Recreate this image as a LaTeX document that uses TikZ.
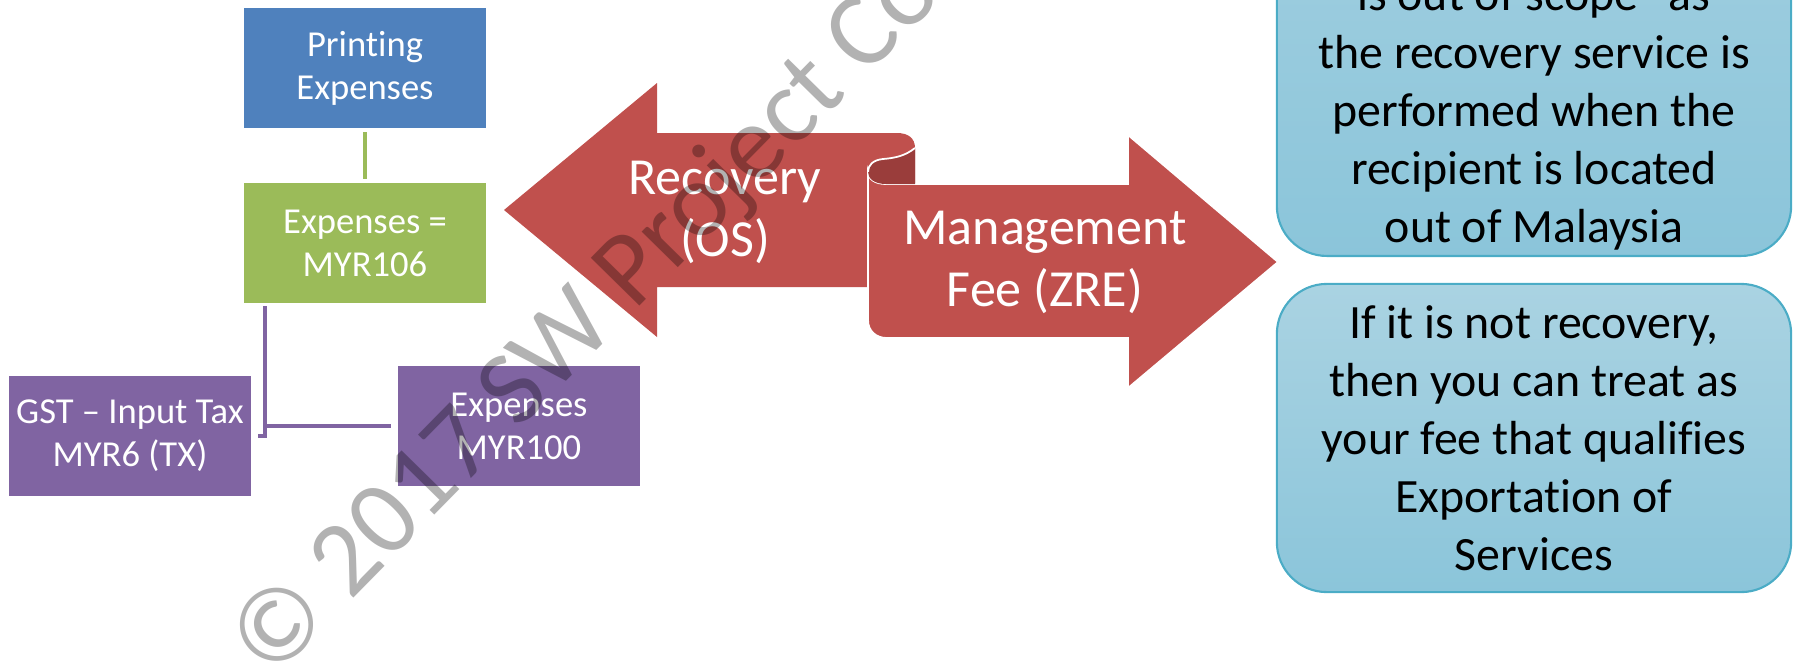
\documentclass[tikz,border=0pt]{standalone}
\usepackage{fontspec}
\setmainfont{Carlito}[Ligatures=NoCommon]
\usetikzlibrary{positioning,calc}
\definecolor{boxblue}{RGB}{79,129,189}
\definecolor{boxgreen}{RGB}{155,187,89}
\definecolor{boxpurple}{RGB}{128,100,162}
\definecolor{ribbon}{RGB}{192,80,77}
\definecolor{ribbondark}{RGB}{154,61,59}
\definecolor{notetop}{RGB}{170,211,226}
\definecolor{notebottom}{RGB}{139,197,218}
\definecolor{noteline}{RGB}{75,172,198}

\begin{document}
\begin{tikzpicture}[x=0.01cm, y=-0.01cm,
    % Node styles
    account/.style={rectangle, text=white, minimum width=2.42cm, minimum height=1.19cm,
                    inner sep=0pt, align=center, font=\fontsize{10.4}{12.2}\selectfont},
    note/.style={rectangle, rounded corners=0.5cm, top color=notetop, bottom color=notebottom,
                 draw=noteline, line width=0.6pt, minimum width=5.14cm, inner sep=0pt,
                 align=center, font=\fontsize{13.6}{16.5}\selectfont},
    notetext/.style={inner sep=0pt, align=center, font=\fontsize{13.6}{16.5}\selectfont},
    ribbontext/.style={text=white, inner sep=0pt, align=center, font=\fontsize{14.8}{17.6}\selectfont},
    stamp/.style={anchor=base west, rotate=45.5, inner sep=0pt, text=black, text opacity=0.3,
                  font=\fontsize{30.2}{36}\selectfont},
    % Line styles
    greenlink/.style={draw=boxgreen, line width=1pt},
    purplelink/.style={draw=boxpurple, line width=1pt}
]

\useasboundingbox (0,0) rectangle (1793,663);
\clip (0,0) rectangle (1793,663);

% Account boxes
\node[account, fill=boxblue] (printing) at (365,68) {Printing\\Expenses};
\node[account, fill=boxgreen] (total) at (365,243) {Expenses =\\MYR106};
\node[account, fill=boxpurple] (gst) at (130,436) {GST – Input Tax\\MYR6 (TX)};
\node[account, fill=boxpurple] (net) at (519,426) {Expenses\\MYR100};

% Connectors
\draw[greenlink] ([yshift=-0.04cm]printing.south) -- ([yshift=0.04cm]total.north);
\coordinate (drop) at ($(total.south west)+(22,3)$);
\coordinate (elbow) at (drop |- gst.east);
\draw[purplelink] (drop) -- (elbow) -- ($(gst.east)+(6,0)$);
\draw[purplelink] (drop |- net.west) -- ($(net.west)+(-6,0)$);

% Ribbon arrows
\path[fill=ribbon] (504,210) -- (657,83) -- (657,133) -- (897,133)
    .. controls (908,133) and (915,138) .. (915,148) -- (915,287) -- (657,287) -- (657,337) -- cycle;
\path[fill=ribbon, draw=white, line width=0.5pt] (868,172) -- (868,320)
    .. controls (868,331) and (876,338) .. (887,338) -- (1128,338) -- (1128,388) -- (1278,262)
    -- (1128,135) -- (1128,184) -- (886,184) .. controls (875,184) and (868,179) .. (868,172) -- cycle;
\path[fill=ribbondark] (915,148) .. controls (905,156) and (895,158) .. (883,159)
    .. controls (873,160) and (868,165) .. (868,172) .. controls (868,179) and (875,184) .. (886,184)
    -- (915,184) -- cycle;
\draw[white, line width=0.5pt] (915,148) .. controls (905,156) and (895,158) .. (883,159)
    .. controls (873,160) and (868,165) .. (868,172);

\node[ribbontext] (recovery) at (725,212) {Recovery\\(OS)};
\node[ribbontext] (management) at (1045,262) {Management\\Fee (ZRE)};

% Notes
\node[note, minimum height=5.4cm, anchor=south] (scope) at (1534,257) {};
\node[notetext, anchor=south] (scopetext) at (1534,251) {is out of scope” as\\the recovery service is\\performed when the\\recipient is located\\out of Malaysia};
\node[note, minimum height=3.08cm] (export) at (1534,438) {If it is not recovery,\\then you can treat as\\your fee that qualifies\\Exportation of\\Services};

% Watermark
\node[stamp] (mark) at (271,682) {© 2017 SW Project Co};

\end{tikzpicture}
\end{document}
